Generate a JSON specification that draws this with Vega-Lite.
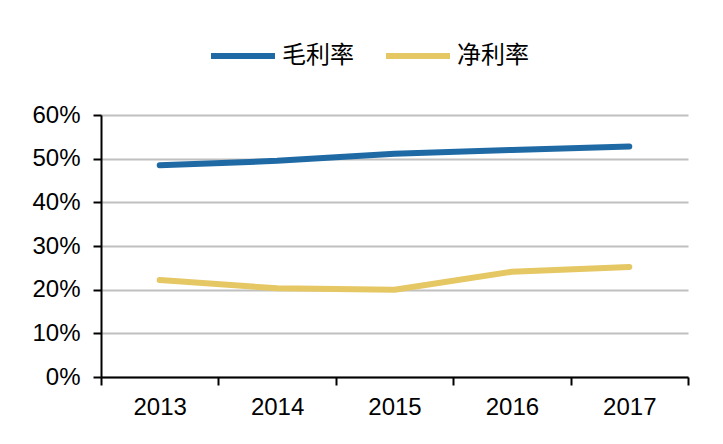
{
  "$schema": "https://vega.github.io/schema/vega-lite/v6.json",
  "width": 587,
  "height": 262,
  "autosize": {"type": "none"},
  "padding": {"left": 101, "top": 115, "right": 35, "bottom": 67},
  "background": "white",
  "data": {
    "values": [
      {"year": "2013", "series": "毛利率", "value": 0.485},
      {"year": "2014", "series": "毛利率", "value": 0.495},
      {"year": "2015", "series": "毛利率", "value": 0.511},
      {"year": "2016", "series": "毛利率", "value": 0.520},
      {"year": "2017", "series": "毛利率", "value": 0.528},
      {"year": "2013", "series": "净利率", "value": 0.222},
      {"year": "2014", "series": "净利率", "value": 0.203},
      {"year": "2015", "series": "净利率", "value": 0.200},
      {"year": "2016", "series": "净利率", "value": 0.241},
      {"year": "2017", "series": "净利率", "value": 0.252}
    ]
  },
  "mark": {"type": "line", "strokeWidth": 6, "strokeCap": "round", "strokeJoin": "round", "interpolate": "linear"},
  "encoding": {
    "x": {
      "field": "year",
      "type": "ordinal",
      "scale": {"type": "band", "paddingInner": 0, "paddingOuter": 0},
      "axis": {
        "title": null,
        "tickBand": "extent",
        "labelAngle": 0,
        "grid": false,
        "domainColor": "black",
        "domainWidth": 2,
        "tickColor": "black",
        "tickWidth": 2,
        "tickSize": 8,
        "labelFont": "Liberation Sans",
        "labelFontSize": 24,
        "labelColor": "black",
        "labelPadding": 10
      }
    },
    "y": {
      "field": "value",
      "type": "quantitative",
      "scale": {"domain": [0, 0.6], "nice": false},
      "axis": {
        "title": null,
        "format": ".0%",
        "values": [0, 0.1, 0.2, 0.3, 0.4, 0.5, 0.6],
        "grid": true,
        "gridColor": "#c0c0c0",
        "gridWidth": 2,
        "domainColor": "black",
        "domainWidth": 2,
        "tickColor": "black",
        "tickWidth": 2,
        "tickSize": 8,
        "labelFont": "Liberation Sans",
        "labelFontSize": 24,
        "labelColor": "black",
        "labelPadding": 13
      }
    },
    "color": {
      "field": "series",
      "type": "nominal",
      "scale": {"domain": ["毛利率", "净利率"], "range": ["#1f6aa5", "#e5c764"]},
      "legend": {
        "orient": "none",
        "legendX": 107,
        "legendY": -94,
        "direction": "horizontal",
        "title": null,
        "padding": 0,
        "symbolType": "stroke",
        "symbolSize": 4096,
        "symbolStrokeWidth": 6,
        "labelFont": "Noto Sans CJK SC",
        "labelFontSize": 24,
        "labelColor": "black",
        "labelOffset": 4,
        "columnPadding": 20
      }
    }
  },
  "config": {"view": {"stroke": null}}
}
